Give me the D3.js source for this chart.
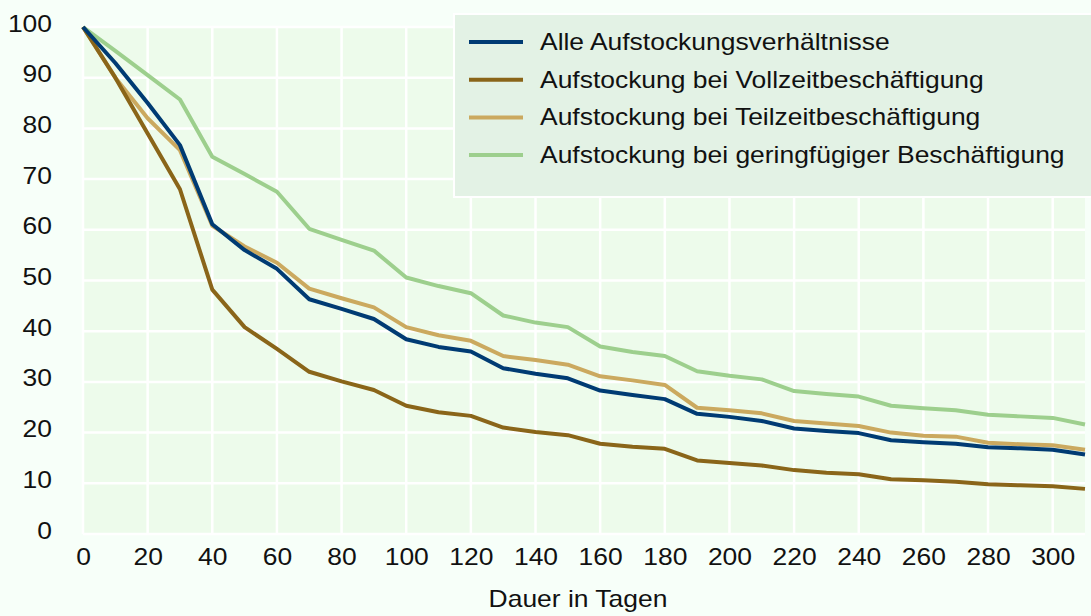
<!DOCTYPE html>
<html>
<head>
<meta charset="utf-8">
<script src="https://cdn.jsdelivr.net/npm/d3@7"></script>
<style>
  body { margin: 0; background: #f7fff9; }
  svg { display: block; font-family: "Liberation Sans", Arial, sans-serif; }
</style>
</head>
<body>
<div id="chart"></div>
<script>
// Days since start of the spell
const days = d3.range(0, 311, 10);

// Share still in the state (percent)
const alle = [100, 92.9, 85, 76.7, 61.1, 56, 52.3, 46.3, 44.4, 42.4,
  38.4, 36.9, 36, 32.7, 31.6, 30.7, 28.3, 27.4, 26.6, 23.7,
  23.1, 22.3, 20.8, 20.3, 19.9, 18.5, 18.1, 17.8, 17.1, 16.9, 16.6, 15.7];
const vollzeit = [100, 90, 79, 68, 48.2, 40.8, 36.5, 32, 30.1, 28.4,
  25.3, 24, 23.3, 21, 20.1, 19.5, 17.8, 17.2, 16.8, 14.5,
  14, 13.5, 12.6, 12.1, 11.8, 10.8, 10.6, 10.3, 9.8, 9.6, 9.4, 8.9];
const teilzeit = [100, 90, 82, 75.7, 60.8, 56.7, 53.5, 48.4, 46.5, 44.7,
  40.8, 39.2, 38.1, 35.1, 34.3, 33.4, 31.1, 30.3, 29.4, 24.9,
  24.4, 23.8, 22.3, 21.8, 21.3, 20, 19.4, 19.2, 18, 17.7, 17.5, 16.6];
const geringfuegig = [100, 95.3, 90.5, 85.7, 74.4, 71, 67.5, 60.2, 58, 55.9,
  50.6, 48.9, 47.5, 43.1, 41.7, 40.8, 37, 35.9, 35.1, 32.1,
  31.2, 30.5, 28.2, 27.6, 27.1, 25.3, 24.8, 24.4, 23.5, 23.2, 22.9, 21.6];

const seriesNames = [
  "Alle Aufstockungsverhältnisse",
  "Aufstockung bei Vollzeitbeschäftigung",
  "Aufstockung bei Teilzeitbeschäftigung",
  "Aufstockung bei geringfügiger Beschäftigung"
];
const seriesValues = [alle, vollzeit, teilzeit, geringfuegig];
const colors = ["#003b73", "#8a6519", "#cba95f", "#9dcf8d"];

const xTicks = d3.range(0, 301, 20);
const yTicks = d3.range(0, 101, 10);
const xTitle = "Dauer in Tagen";

const width = 1091, height = 616;
const margin = { top: 27, right: 6, bottom: 82, left: 83 };
const fontSize = 23, stretch = 1.15;   // the original type is a bit wide

const svg = d3.select("#chart").append("svg")
  .attr("width", width)
  .attr("height", height);

const x = d3.scaleLinear().domain([0, 310]).range([margin.left, width - margin.right]);
const y = d3.scaleLinear().domain([0, 100]).range([height - margin.bottom, margin.top]);

// helper: stretched text placed at (tx, ty)
function label(g, tx, ty, txt, anchor) {
  return g.append("text")
    .attr("transform", `translate(${tx},${ty}) scale(${stretch},1)`)
    .attr("text-anchor", anchor || "start")
    .attr("font-size", fontSize)
    .attr("fill", "#111")
    .text(txt);
}

// plot background
svg.append("rect")
  .attr("x", x(0)).attr("y", y(100))
  .attr("width", x(310) - x(0)).attr("height", y(0) - y(100))
  .attr("fill", "#edfbeb");

// grid
svg.append("g").selectAll("line").data(xTicks).join("line")
  .attr("x1", d => x(d)).attr("x2", d => x(d))
  .attr("y1", y(0)).attr("y2", y(100))
  .attr("stroke", "#fff").attr("stroke-width", 2.5);
svg.append("g").selectAll("line").data(yTicks).join("line")
  .attr("x1", x(0)).attr("x2", x(310))
  .attr("y1", d => y(d)).attr("y2", d => y(d))
  .attr("stroke", "#fff").attr("stroke-width", 2.5);

// axes: use d3 axes for placement, then swap in stretched labels
const xAxis = svg.append("g")
  .attr("transform", `translate(0,${y(0)})`)
  .call(d3.axisBottom(x).tickValues(xTicks).tickSize(0).tickFormat(""));
const yAxis = svg.append("g")
  .attr("transform", `translate(${x(0) - 31},0)`)
  .call(d3.axisLeft(y).tickValues(yTicks).tickSize(0).tickFormat(""));
xAxis.select(".domain").remove();
yAxis.select(".domain").remove();
xAxis.selectAll(".tick").each(function (d) {
  label(d3.select(this), 0, 31, d, "middle");
});
yAxis.selectAll(".tick").each(function (d) {
  label(d3.select(this), 0, 4, d, "end");
});

label(svg, 578, 607, xTitle, "middle");

// lines
const line = d3.line().x((d, i) => x(days[i])).y(d => y(d));
svg.append("g").selectAll("path").data(seriesValues.slice().reverse()).join("path")
  .attr("d", line)
  .attr("fill", "none")
  .attr("stroke", (d, i) => colors[colors.length - 1 - i])
  .attr("stroke-width", 4)
  .attr("stroke-linejoin", "round");

// legend
const legend = svg.append("g");
legend.append("rect")
  .attr("x", 454).attr("y", 14)
  .attr("width", 645).attr("height", 183)
  .attr("fill", "#e3f2e5")
  .attr("stroke", "#fff").attr("stroke-width", 2);
seriesNames.forEach((name, i) => {
  const ly = 42 + i * 37.7;
  legend.append("line")
    .attr("x1", 469).attr("x2", 523)
    .attr("y1", ly).attr("y2", ly)
    .attr("stroke", colors[i]).attr("stroke-width", 4);
  label(legend, 540, ly + 8, name);
});
</script>
</body>
</html>
